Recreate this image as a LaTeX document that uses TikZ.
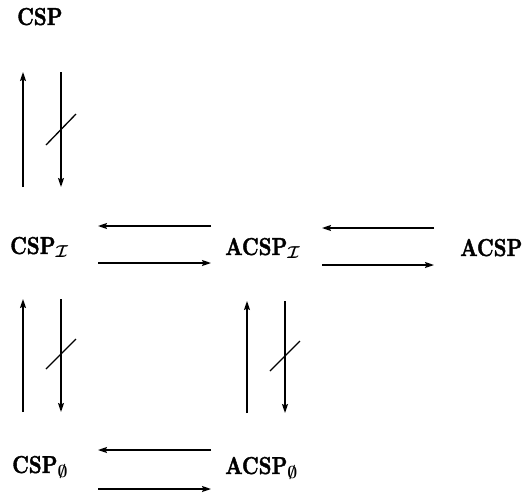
\documentclass[tikz,border=0pt]{standalone}
\usepackage{amsmath}
\usepackage{bm}
\usepackage{fontspec}
\usetikzlibrary{arrows.meta}
% condensed, heavy bold face for the class labels
\newfontfamily\lblfont{lmroman10}[Extension=.otf, UprightFont=*-regular,
  BoldFont=*-bold, FakeStretch=0.82, BoldFeatures={FakeBold=1.6}]
\begin{document}
\begin{tikzpicture}[x=1pt,y=-1pt,
  lbl/.style={font=\lblfont\fontsize{24.5}{30}\selectfont\bfseries, inner sep=0pt, anchor=base west},
  arr/.style={line width=1.5pt, -{Stealth[length=9pt,width=6pt,inset=1.5pt]}},
  cut/.style={line width=1.3pt}]
  \useasboundingbox (0,0) rectangle (529,496);

  % classes
  \node[lbl] (csp)    at (17,25)   {CSP};
  \node[lbl] (cspI)   at (10,254)  {CSP$_{\bm{\mathcal{I}}}$};
  \node[lbl] (acspI)  at (225,255) {ACSP$_{\bm{\mathcal{I}}}$};
  \node[lbl] (acsp)   at (460,256) {ACSP};
  \node[lbl] (csp0)   at (12,473)  {CSP$_{\bm{\emptyset}}$};
  \node[lbl] (acsp0)  at (225,474) {ACSP$_{\bm{\emptyset}}$};

  % arrow end points
  \coordinate (a1s) at (23,187);  \coordinate (a1e) at (23,72);
  \coordinate (b1s) at (61,72);   \coordinate (b1e) at (61,187);
  \coordinate (a2s) at (23,412);  \coordinate (a2e) at (23,299);
  \coordinate (b2s) at (61,299);  \coordinate (b2e) at (61,412);
  \coordinate (a3s) at (247,413); \coordinate (a3e) at (247,301);
  \coordinate (b3s) at (285,301); \coordinate (b3e) at (285,413);
  \coordinate (h1s) at (211,226); \coordinate (h1e) at (98,226);
  \coordinate (g1s) at (98,263);  \coordinate (g1e) at (211,263);
  \coordinate (h2s) at (434,228); \coordinate (h2e) at (322,228);
  \coordinate (g2s) at (322,265); \coordinate (g2e) at (434,265);
  \coordinate (h3s) at (211,450); \coordinate (h3e) at (98,450);
  \coordinate (g3s) at (98,489);  \coordinate (g3e) at (211,489);

  % vertical pairs
  \draw[arr] (a1s) -- (a1e);
  \draw[arr] (b1s) -- (b1e);
  \draw[arr] (a2s) -- (a2e);
  \draw[arr] (b2s) -- (b2e);
  \draw[arr] (a3s) -- (a3e);
  \draw[arr] (b3s) -- (b3e);

  % strokes crossing the downward arrows
  \draw[cut] (46,145) -- (76,114);
  \draw[cut] (46,369) -- (76,339);
  \draw[cut] (270,371) -- (300,341);

  % horizontal pairs
  \draw[arr] (h1s) -- (h1e);
  \draw[arr] (g1s) -- (g1e);
  \draw[arr] (h2s) -- (h2e);
  \draw[arr] (g2s) -- (g2e);
  \draw[arr] (h3s) -- (h3e);
  \draw[arr] (g3s) -- (g3e);
\end{tikzpicture}
\end{document}
